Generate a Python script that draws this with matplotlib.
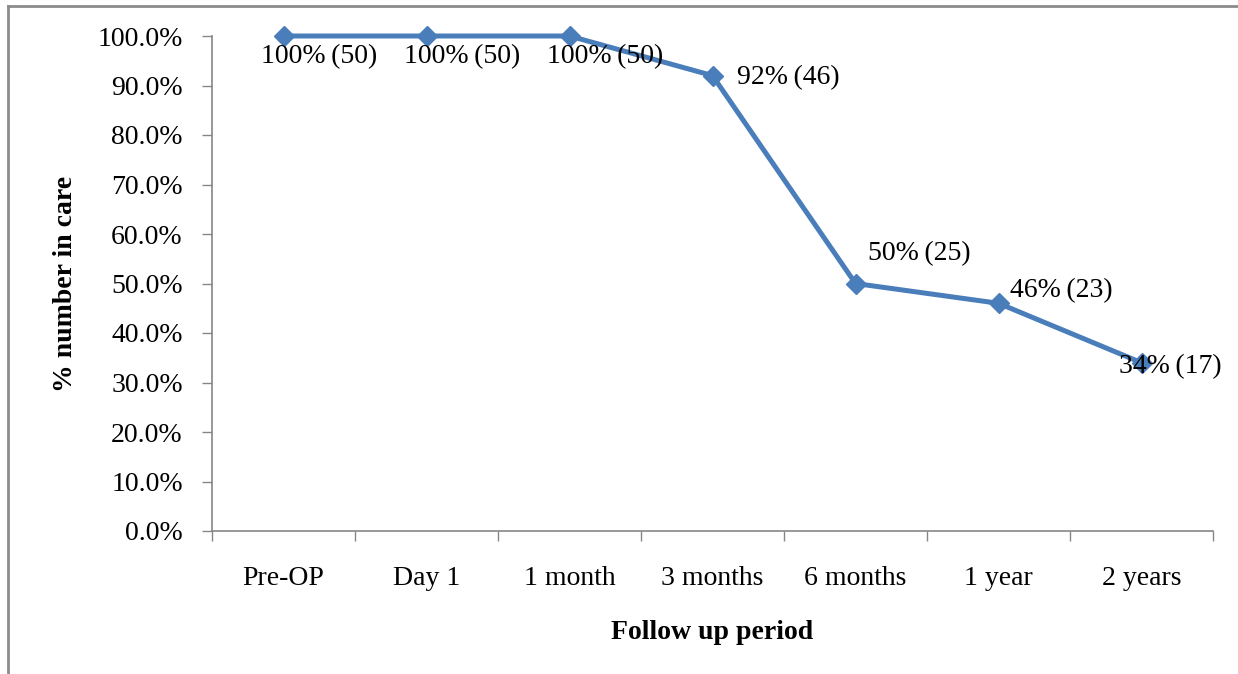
import matplotlib
matplotlib.use("Agg")
import matplotlib.pyplot as plt
from matplotlib.lines import Line2D
from matplotlib.ticker import FuncFormatter, FixedLocator

plt.rcParams['font.family'] = ['Liberation Serif', 'DejaVu Serif']

# data
periods = ['Pre-OP', 'Day 1', '1 month', '3 months', '6 months', '1 year', '2 years']
pct_in_care = [1.00, 1.00, 1.00, 0.92, 0.50, 0.46, 0.34]
n_in_care = [50, 50, 50, 46, 25, 23, 17]

# label placement (pixel offsets from the point)
label_offsets = [(36, -21), (36, -21), (36, -21), (76, -2), (64, 30), (63, 13), (29, -4)]

FS = 20

fig = plt.figure(figsize=(12.38, 6.74), dpi=100)
ax = fig.add_axes([212 / 1238, 1 - 531 / 674, 1001 / 1238, 495 / 674])

x = list(range(len(periods)))
ax.plot(x, pct_in_care, color='#4A7EBB', lw=3.6, marker='D', ms=10.5,
        markerfacecolor='#4A7EBB', markeredgecolor='#4A7EBB', clip_on=False, zorder=3)

for i, (v, n) in enumerate(zip(pct_in_care, n_in_care)):
    dx, dy = label_offsets[i]
    ax.annotate(f"{round(v * 100)}%\u2009({n})", (i, v), xytext=(dx, dy),
                textcoords='offset pixels', ha='center', va='center',
                fontsize=FS, color='black', zorder=4)

ax.set_xlim(-0.5, len(periods) - 0.5)
ax.set_ylim(0, 1.0)

# category boundaries as ticks, labels centred
ax.xaxis.set_major_locator(FixedLocator([i - 0.5 for i in range(len(periods) + 1)]))
ax.xaxis.set_minor_locator(FixedLocator(x))
ax.set_xticklabels([])
ax.set_xticklabels(periods, minor=True)
ax.tick_params(axis='x', which='major', length=7, width=1, color='#868686', direction='out')
ax.tick_params(axis='x', which='minor', length=0, pad=25, labelsize=FS)

ax.set_yticks([i / 10 for i in range(11)])
ax.yaxis.set_major_formatter(FuncFormatter(lambda v, p: f"{v * 100:.1f}%"))
ax.tick_params(axis='y', length=7, width=1, color='#868686', direction='out', pad=14, labelsize=FS)

for s in ['top', 'right']:
    ax.spines[s].set_visible(False)
for s in ['left', 'bottom']:
    ax.spines[s].set_color('#868686')
    ax.spines[s].set_linewidth(1.2)

ax.set_ylabel('% number in care', fontsize=FS, fontweight='bold', labelpad=14)
ax.set_xlabel('Follow up period', fontsize=FS, fontweight='bold', labelpad=21)

# outer frame (top and left only)
fig.add_artist(Line2D([8 / 1238, 1], [1 - 6 / 674, 1 - 6 / 674], color='#8C8C8C', lw=2))
fig.add_artist(Line2D([8 / 1238, 8 / 1238], [0, 1 - 6 / 674], color='#8C8C8C', lw=2))

fig.savefig('out.png', dpi=100)
